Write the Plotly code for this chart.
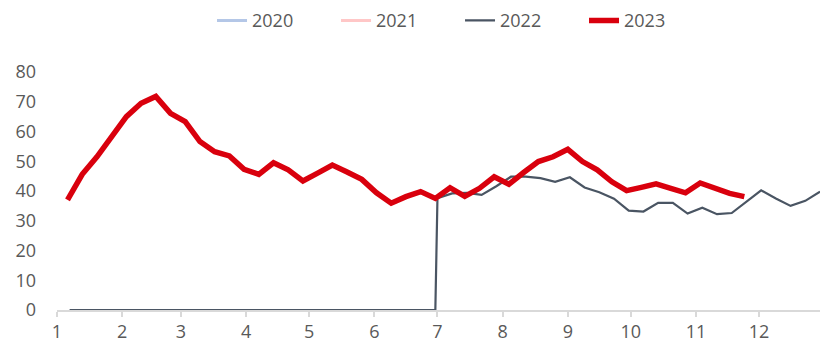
import pandas as pd
import plotly.graph_objects as go

# ---- data ----
month_ticks = ["2023-01-01", "2023-02-01", "2023-03-01", "2023-04-01", "2023-05-01", "2023-06-01",
               "2023-07-01", "2023-08-01", "2023-09-01", "2023-10-01", "2023-11-01", "2023-12-01"]
month_labels = ["1", "2", "3", "4", "5", "6", "7", "8", "9", "10", "11", "12"]

dates_2023 = list(pd.date_range("2023-01-06", periods=47, freq="7D"))
vals_2023 = [37.0, 45.6, 51.5, 58.3, 65.0, 69.5, 71.8, 66.1, 63.3, 56.6,
             53.2, 51.8, 47.3, 45.6, 49.5, 47.1, 43.4, 46.0, 48.7, 46.4,
             43.9, 39.4, 35.9, 38.1, 39.8, 37.5, 41.1, 38.2, 40.9, 44.8,
             42.3, 46.2, 49.9, 51.5, 54.0, 49.9, 47.1, 43.1, 40.1, 41.2,
             42.4, 40.9, 39.4, 42.7, 40.9, 39.2, 38.1]

dates_2022 = (list(pd.date_range("2023-01-07", "2023-06-24", freq="7D")) + [pd.Timestamp("2023-06-30")]
              + list(pd.date_range("2023-07-01", "2023-12-30", freq="7D")))
vals_2022 = [0, 0, 0, 0, 0, 0, 0, 0, 0, 0,
             0, 0, 0, 0, 0, 0, 0, 0, 0, 0,
             0, 0, 0, 0, 0, 0,
             37.6, 39.2, 39.4, 38.7, 41.6, 44.8, 44.8, 44.3, 43.1, 44.6,
             41.2, 39.6, 37.4, 33.4, 33.1, 36.0, 36.0, 32.4, 34.4, 32.2,
             32.6, 36.4, 40.2, 37.5, 35.0, 36.7, 39.8]

# 2020 and 2021 carry no visible values in the chart (legend only)
dates_2020 = [None]
vals_2020 = [None]
dates_2021 = [None]
vals_2021 = [None]

FONT = "Open Sans"
TXT = "#595959"

fig = go.Figure()
fig.add_trace(go.Scatter(x=dates_2020, y=vals_2020, mode="lines", name="2020",
                         line=dict(color="#B4C7E7", width=3)))
fig.add_trace(go.Scatter(x=dates_2021, y=vals_2021, mode="lines", name="2021",
                         line=dict(color="#FFC7C7", width=3)))
fig.add_trace(go.Scatter(x=dates_2022, y=vals_2022, mode="lines", name="2022",
                         line=dict(color="#4A5563", width=2.2)))
fig.add_trace(go.Scatter(x=dates_2023, y=vals_2023, mode="lines", name="2023",
                         line=dict(color="#D9000D", width=5.5)))

fig.update_layout(
    width=820, height=346,
    margin=dict(l=57, r=0, t=72, b=36, autoexpand=False),
    paper_bgcolor="white", plot_bgcolor="white",
    font=dict(family=FONT, size=18, color=TXT),
    showlegend=True,
    legend=dict(orientation="h", xref="container", yref="container",
                x=0.561, xanchor="center", y=0.94, yanchor="middle",
                font=dict(family=FONT, size=18, color=TXT),
                itemwidth=30, entrywidth=79, entrywidthmode="pixels"),
    xaxis=dict(type="date", range=["2023-01-01", "2023-12-30"],
               tickmode="array", tickvals=month_ticks, ticktext=month_labels,
               showgrid=False, zeroline=False,
               showline=True, linecolor="#D9D9D9", linewidth=1.5,
               ticks="outside", ticklen=5, tickcolor="#D9D9D9", tickwidth=1.5,
               tickfont=dict(family=FONT, size=18, color=TXT)),
    yaxis=dict(range=[0, 80], dtick=10, tick0=0,
               showgrid=False, zeroline=False, showline=False,
               ticks="", ticklabelstandoff=20,
               tickfont=dict(family=FONT, size=18, color=TXT)),
)

fig.write_html("out.html", config={"displayModeBar": False})

# remove the browser's default page margin so the figure sits at the window origin
with open("out.html", "r", encoding="utf-8") as f:
    html = f.read()
html = html.replace("<head>", "<head><style>html,body{margin:0;padding:0;}</style>", 1)
with open("out.html", "w", encoding="utf-8") as f:
    f.write(html)
